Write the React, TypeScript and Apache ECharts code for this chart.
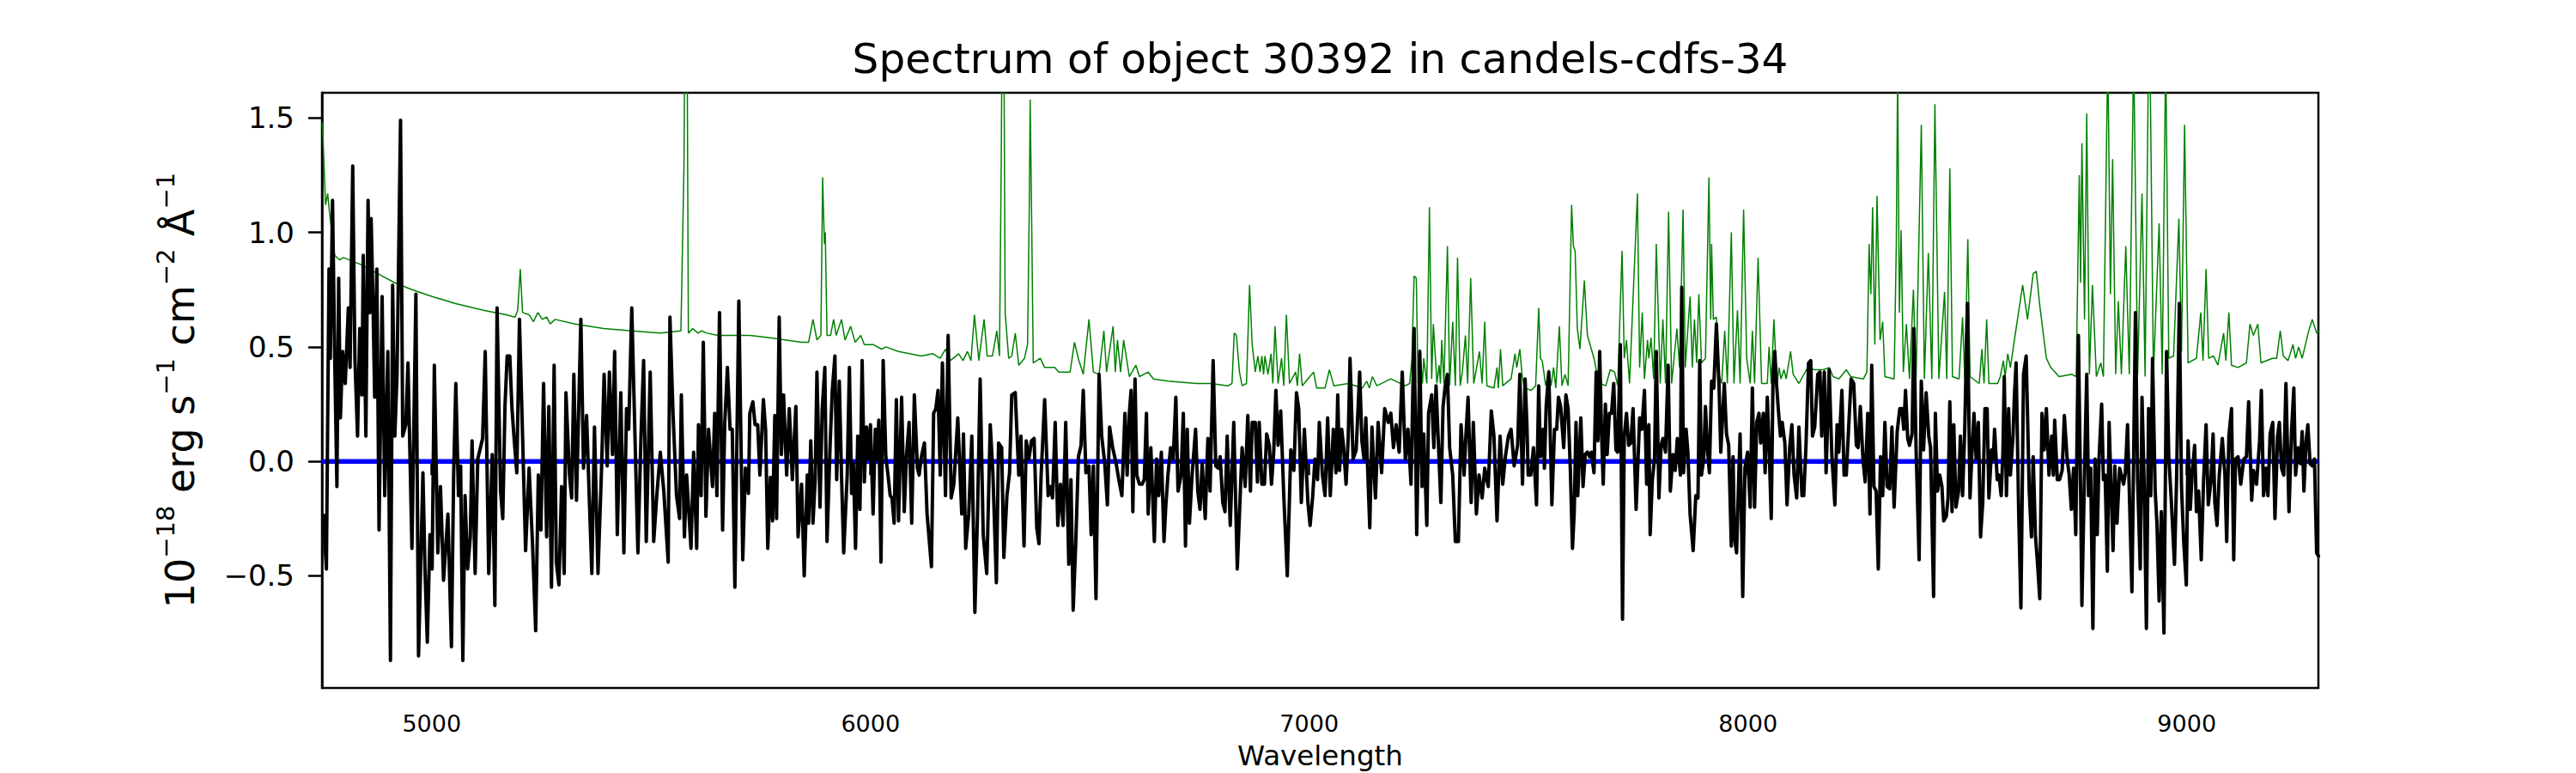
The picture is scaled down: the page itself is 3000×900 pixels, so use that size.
import React, { useEffect, useRef } from "react";
import * as echarts from "echarts";

const TITLE = "Spectrum of object 30392 in candels-cdfs-34";
const X_NAME = "Wavelength";
const X_MIN = 4750;
const X_MAX = 9300;
const Y_MIN = -0.99;
const Y_MAX = 1.61;
const xTicks = [5000, 6000, 7000, 8000, 9000];
const yTicks = [-0.5, 0, 0.5, 1.0, 1.5];
const zeroLevel = 0;

// Observed flux (black), wavelength [Å] / flux [1e-18 erg/s/cm2/Å]
const flux4750: [number, number][] = [
  [4753,-0.23],[4760,-0.47],[4766,0.84],[4769,0.45],[4774,1.14],[4779,0.45],[4784,-0.11],[4788,0.80],[4792,0.19],[4797,0.48],[4803,0.34],[4810,0.67],[4814,0.41],[4820,1.29],[4825,0.45],[4831,0.11],[4836,0.58],[4841,0.29],[4844,0.90],[4850,0.11],[4855,1.14],[4859,0.65],[4862,1.06],[4866,0.72],[4870,0.28],[4875,0.84],[4880,-0.30],[4887,0.72],[4893,-0.15],[4900,0.48],[4906,-0.87],[4911,0.77],[4916,0.11],[4921,0.38],[4929,1.49],[4934,0.11],[4941,0.16],[4946,0.43],[4955,-0.38],[4964,0.73],[4970,-0.85],[4980,-0.05],[4985,-0.49],[4990,-0.79],[4996,-0.32],[5001,-0.47],[5006,0.42],[5014,-0.40],[5020,-0.11],[5027,-0.52],[5037,-0.23],[5045,-0.81],[5050,-0.06],[5055,0.34],[5061,-0.15],[5066,-0.02],[5071,-0.87],[5076,-0.15],[5082,-0.47],[5088,-0.33],[5092,0.09],[5099,-0.49],[5105,0.01],[5116,0.10],[5122,0.48],[5130,-0.49],[5138,0.03],[5144,-0.63],[5149,0.67],[5157,-0.13],[5162,-0.25],[5167,0.24],[5172,0.46],[5178,0.46],[5183,0.23],[5189,0.07],[5194,-0.05],[5200,0.62],[5207,0.12],[5214,-0.39],[5222,-0.03],[5230,-0.37],[5237,-0.74],[5243,-0.06],[5249,-0.30],[5255,0.34],[5262,-0.33],[5267,0.24],[5273,-0.55],[5279,0.42],[5284,-0.44],[5290,-0.54],[5296,-0.11],[5302,-0.49],[5306,0.30],[5314,-0.06],[5319,-0.16],[5324,0.38],[5330,-0.17],[5340,0.62],[5346,-0.03],[5353,0.20],[5359,-0.15],[5365,-0.49],[5371,0.15],[5379,-0.49],[5387,-0.04],[5393,0.38],[5400,-0.02],[5405,0.39],[5412,0.03],[5417,0.48],[5423,-0.32],[5431,0.30],[5438,-0.40],[5444,0.23],[5449,0.14],[5456,0.67],[5462,0.21],[5470,-0.40],[5477,0.11],[5483,0.44],[5489,-0.35],[5498,0.39],[5506,-0.35],[5513,-0.15],[5521,0.04],[5529,-0.13],[5539,-0.44],[5543,0.63],[5550,0.21],[5558,-0.15],[5565,-0.25],[5569,0.29],[5576,-0.33],[5581,-0.06],[5591,-0.38],[5597,0.04],[5604,-0.38],[5608,0.16],[5614,-0.15],[5619,0.52],[5625,-0.24],[5631,0.14],[5640,-0.11],[5645,0.21],[5650,-0.15],[5656,0.65],
];
const flux5660: [number, number][] = [
  [5663,-0.30],[5668,0.17],[5674,0.41],[5680,0.14],[5685,0.14],[5691,-0.55],[5700,0.70],[5709,-0.43],[5715,-0.03],[5722,-0.14],[5725,0.21],[5732,0.26],[5737,0.16],[5743,0.16],[5748,-0.06],[5756,0.27],[5761,0.14],[5766,-0.38],[5772,-0.07],[5777,-0.26],[5782,0.20],[5786,-0.25],[5792,0.63],[5797,0.03],[5802,0.29],[5809,-0.06],[5815,0.23],[5822,-0.08],[5830,0.24],[5835,-0.33],[5843,-0.10],[5849,-0.50],[5856,-0.06],[5859,-0.27],[5864,0.09],[5869,-0.27],[5874,-0.08],[5878,0.39],[5885,-0.20],[5890,0.23],[5896,0.41],[5901,-0.35],[5908,0.07],[5913,0.31],[5919,0.46],[5923,-0.08],[5929,0.35],[5934,-0.06],[5939,-0.40],[5947,-0.06],[5952,0.41],[5957,-0.14],[5961,-0.01],[5966,-0.38],[5971,0.11],[5976,-0.21],[5981,0.44],[5986,-0.09],[5991,0.15],[5996,0.01],[6000,0.16],[6006,-0.23],[6011,0.14],[6015,0.01],[6019,0.18],[6024,-0.44],[6029,0.44],[6035,0.02],[6040,-0.06],[6045,-0.15],[6049,-0.16],[6054,-0.27],[6059,0.27],[6064,-0.26],[6071,0.28],[6077,-0.22],[6082,0.02],[6088,0.17],[6094,-0.27],[6100,0.29],[6107,-0.03],[6111,-0.06],[6116,0.02],[6123,0.08],[6129,-0.23],[6139,-0.46],[6144,0.21],[6149,0.23],[6154,0.31],[6159,-0.06],[6164,0.43],[6171,-0.15],[6177,0.55],[6184,-0.16],[6190,-0.10],[6199,0.19],[6208,-0.23],[6212,0.12],[6217,-0.38],[6224,-0.23],[6231,0.11],[6238,-0.66],[6244,-0.23],[6250,0.36],[6257,-0.32],[6265,-0.49],[6273,0.16],[6279,-0.05],[6287,-0.53],[6292,0.08],[6299,0.06],[6304,-0.42],[6311,-0.15],[6317,-0.05],[6322,0.29],[6330,0.30],[6338,-0.06],[6343,0.11],[6350,-0.37],[6355,0.09],[6361,0.01],[6367,0.09],[6373,0.10],[6379,-0.29],[6384,-0.36],[6389,-0.06],[6397,0.27],[6405,-0.15],[6410,-0.11],[6415,-0.16],[6421,0.17],[6427,-0.28],[6433,-0.10],[6439,-0.28],[6445,0.17],[6452,-0.45],[6457,-0.08],[6462,-0.65],[6468,-0.35],[6474,0.02],[6480,0.07],[6485,0.31],[6491,-0.05],[6498,-0.02],[6503,-0.32],[6508,-0.02],[6514,-0.60],[6521,0.38],[6527,0.11],[6534,-0.01],[6540,-0.19],[6545,0.15],[6552,0.06],[6560,-0.01],[6566,-0.08],[6573,-0.15],
];
const flux6580: [number, number][] = [
  [6580,0.21],[6585,-0.06],[6590,0.21],[6594,0.31],[6598,-0.22],[6603,0.36],[6607,-0.06],[6613,-0.10],[6619,-0.10],[6624,-0.08],[6629,0.21],[6633,-0.23],[6639,0.06],[6647,-0.35],[6652,0.01],[6657,-0.15],[6663,0.04],[6669,-0.35],[6673,-0.20],[6678,-0.06],[6684,0.06],[6690,0.01],[6696,0.28],[6701,-0.13],[6708,-0.06],[6713,0.21],[6718,-0.37],[6722,0.14],[6727,-0.27],[6733,-0.06],[6741,0.14],[6746,-0.13],[6751,-0.21],[6756,-0.01],[6763,-0.25],[6769,0.10],[6774,-0.13],[6781,0.44],[6787,-0.02],[6793,-0.03],[6797,0.02],[6803,-0.18],[6808,-0.22],[6813,0.11],[6820,-0.28],[6828,0.17],[6836,-0.47],[6841,-0.23],[6847,0.06],[6854,-0.11],[6860,0.20],[6866,-0.13],[6870,0.17],[6877,0.17],[6882,-0.09],[6886,0.17],[6892,-0.10],[6898,-0.10],[6903,0.12],[6909,0.07],[6914,-0.10],[6919,0.04],[6924,0.31],[6929,0.07],[6935,0.22],[6942,-0.15],[6950,-0.50],[6958,0.05],[6965,-0.04],[6971,0.30],[6976,0.23],[6982,-0.18],[6989,0.14],[6997,-0.18],[7002,-0.28],[7008,-0.15],[7013,0.01],[7019,-0.08],[7023,0.17],[7030,-0.06],[7036,-0.15],[7042,0.19],[7048,-0.15],[7055,0.14],[7061,-0.05],[7065,0.29],[7069,-0.04],[7074,0.14],[7078,0.07],[7084,-0.10],[7089,0.11],[7093,0.45],[7100,0.01],[7107,0.05],[7115,0.39],[7120,0.09],[7125,0.01],[7129,0.19],[7138,-0.29],[7143,0.15],[7147,-0.02],[7151,-0.16],[7157,0.17],[7165,-0.05],[7172,0.23],[7180,0.17],[7186,0.21],[7192,0.06],[7198,0.16],[7205,0.04],[7212,0.39],[7219,0.01],[7225,0.14],[7232,-0.10],[7239,0.58],[7245,-0.32],[7252,0.48],[7257,-0.11],[7261,0.12],[7268,-0.28],[7272,0.21],[7279,0.29],[7284,0.06],[7289,0.33],[7295,0.05],[7300,-0.18],[7305,0.24],[7310,0.33],[7315,0.38],[7320,0.06],[7327,-0.06],[7333,-0.35],[7340,-0.35],[7346,0.16],[7353,-0.06],[7357,0.11],[7362,0.28],[7369,-0.18],[7374,0.17],[7381,-0.23],[7387,-0.06],[7394,-0.16],[7400,-0.03],[7408,-0.11],[7415,0.22],[7421,0.11],[7428,-0.26],[7435,0.11],[7441,-0.10],[7447,0.02],[7454,0.11],[7460,0.14],[7467,-0.02],[7475,0.07],[7480,0.38],[7486,-0.10],[7492,0.36],[7496,0.17],[7499,-0.06],[7505,-0.06],[7511,0.06],[7518,-0.19],
];
const flux7520: [number, number][] = [
  [7523,0.33],[7527,0.02],[7533,0.14],[7536,-0.03],[7540,0.24],[7546,0.39],[7553,-0.19],[7559,0.14],[7564,0.14],[7568,0.28],[7573,0.24],[7580,0.06],[7585,0.29],[7590,0.23],[7595,-0.03],[7600,-0.38],[7604,-0.22],[7608,0.17],[7612,-0.15],[7619,0.19],[7624,-0.11],[7629,0.03],[7634,0.04],[7639,0.02],[7643,0.04],[7649,-0.05],[7654,0.39],[7658,0.09],[7662,0.48],[7666,0.14],[7670,-0.10],[7675,0.25],[7679,0.03],[7684,0.21],[7689,0.21],[7694,0.34],[7699,0.05],[7703,0.04],[7709,0.51],[7714,-0.69],[7718,0.11],[7723,0.21],[7728,0.07],[7733,0.08],[7738,0.23],[7745,-0.21],[7753,0.19],[7758,0.14],[7764,0.31],[7769,-0.10],[7774,0.16],[7777,-0.32],[7782,-0.08],[7787,0.01],[7791,0.48],[7797,-0.16],[7802,0.07],[7806,0.10],[7812,0.04],[7818,0.42],[7823,-0.13],[7829,0.03],[7834,-0.04],[7839,0.10],[7846,-0.06],[7849,0.76],[7853,-0.05],[7859,0.14],[7863,0.04],[7868,-0.23],[7875,-0.39],[7881,-0.15],[7886,-0.16],[7890,0.44],[7894,-0.06],[7899,0.01],[7903,0.24],[7908,0.04],[7912,-0.05],[7917,0.35],[7922,0.32],[7928,0.60],[7934,0.33],[7938,0.04],[7946,0.34],[7951,0.12],[7956,0.07],[7962,-0.37],[7966,0.02],[7969,-0.33],[7974,-0.40],[7979,-0.06],[7982,0.12],[7988,-0.59],[7993,-0.03],[7999,0.04],[8005,-0.20],[8010,0.32],[8015,-0.20],[8020,0.17],[8025,0.21],[8029,0.08],[8035,0.21],[8039,-0.05],[8044,0.28],[8048,0.07],[8053,-0.25],[8057,0.36],[8061,0.48],[8065,0.34],[8069,0.23],[8074,0.11],[8078,0.17],[8084,0.08],[8089,-0.19],[8095,0.06],[8100,0.16],[8105,-0.06],[8111,-0.16],[8116,0.15],[8123,-0.15],[8127,-0.15],[8132,0.06],[8138,0.43],[8143,0.44],[8147,0.11],[8152,0.15],[8159,0.38],[8164,0.39],[8168,0.11],[8174,0.39],[8178,-0.05],[8185,0.40],[8191,0.03],[8198,-0.19],[8203,0.16],[8207,0.04],[8214,0.31],[8219,-0.06],[8224,-0.06],[8230,0.17],[8235,0.36],[8241,0.34],[8247,0.07],[8251,0.06],[8256,0.24],[8262,0.01],[8267,-0.09],[8273,0.21],[8278,-0.23],[8282,0.42],[8287,-0.11],[8292,-0.13],[8297,-0.47],[8302,0.02],[8307,-0.15],[8312,0.17],[8317,-0.11],[8323,-0.12],[8328,0.15],[8333,-0.20],[8340,0.13],[8346,0.23],[8351,0.23],[8355,0.14],[8359,0.31],[8364,0.10],[8368,0.07],[8374,0.12],[8378,0.58],[8383,0.06],[8390,-0.43],[8395,0.35],[8400,0.05],[8406,0.30],[8412,0.11],[8416,0.06],[8423,-0.59],[8427,0.21],
];
const flux8430: [number, number][] = [
  [8432,-0.13],[8437,-0.06],[8442,-0.11],[8446,-0.26],[8452,-0.24],[8456,-0.16],[8460,0.26],[8465,-0.22],[8469,0.16],[8474,-0.20],[8480,-0.13],[8484,0.11],[8489,-0.15],[8494,0.14],[8500,0.69],[8506,-0.16],[8510,0.02],[8515,0.21],[8520,0.01],[8525,0.17],[8530,-0.33],[8535,-0.18],[8540,0.23],[8545,0.23],[8549,-0.16],[8555,0.05],[8559,0.01],[8562,0.14],[8568,-0.08],[8572,-0.06],[8577,-0.15],[8581,0.04],[8584,0.37],[8589,-0.15],[8594,0.23],[8598,-0.06],[8604,0.11],[8607,0.28],[8611,0.43],[8617,-0.23],[8622,-0.64],[8628,0.38],[8634,0.46],[8641,-0.13],[8646,-0.33],[8650,0.02],[8655,-0.32],[8660,-0.45],[8665,-0.60],[8670,0.21],[8675,0.05],[8680,0.23],[8686,-0.06],[8692,0.11],[8696,-0.06],[8699,0.18],[8705,-0.08],[8710,-0.08],[8716,-0.04],[8721,0.20],[8727,0.02],[8732,-0.06],[8737,-0.21],[8742,-0.03],[8747,-0.32],[8753,0.55],[8758,-0.13],[8761,-0.63],[8767,-0.04],[8772,0.38],[8776,-0.15],[8781,-0.03],[8786,-0.73],[8791,0.01],[8796,-0.32],[8800,0.01],[8806,0.25],[8810,-0.08],[8814,-0.06],[8819,-0.48],[8823,0.17],[8828,-0.15],[8832,-0.39],[8836,-0.02],[8841,-0.27],[8847,-0.03],[8851,-0.06],[8856,-0.10],[8860,-0.05],[8865,0.16],[8870,-0.20],[8875,-0.57],[8879,0.03],[8883,0.65],[8888,-0.08],[8894,-0.47],[8898,0.28],[8903,-0.11],[8908,-0.73],[8913,0.23],[8918,-0.15],[8922,0.45],[8928,-0.13],[8932,-0.27],[8937,-0.61],[8942,-0.22],[8948,-0.75],[8954,0.48],[8959,0.02],[8965,-0.18],[8972,-0.45],[8977,-0.06],[8983,0.69],[8988,-0.11],[8993,-0.35],[8999,-0.54],[9003,0.09],[9008,-0.21],[9012,-0.06],[9018,0.07],[9022,-0.22],[9027,-0.13],[9033,-0.43],[9038,-0.10],[9044,0.16],[9049,-0.19],[9055,-0.09],[9060,0.12],[9064,-0.18],[9069,-0.28],[9074,-0.06],[9081,0.10],[9087,-0.06],[9091,-0.35],[9096,0.11],[9102,0.23],[9107,-0.43],[9111,0.01],[9117,0.02],[9123,-0.10],[9130,0.01],[9136,0.02],[9141,0.26],[9148,-0.17],[9152,-0.04],[9159,-0.10],[9166,0.09],[9170,0.31],[9175,-0.15],[9181,-0.03],[9185,-0.15],[9190,0.12],[9196,0.17],[9201,-0.25],[9207,0.11],[9211,0.17],[9216,-0.03],[9221,-0.06],[9226,0.34],[9233,-0.22],[9239,0.14],[9244,0.32],[9248,-0.06],[9254,0.06],[9259,-0.01],[9263,0.13],[9267,-0.13],[9272,0.09],[9276,0.16],[9281,-0.01],[9286,-0.02],[9291,0.01],[9296,-0.40],[9302,-0.42],
];

// Model / sky spectrum (green)
const model4750: [number, number][] = [
  [4751,1.48],[4758,1.12],[4763,1.17],[4767,1.09],[4773,0.99],[4779,0.90],[4790,0.88],[4799,0.89],[4838,0.86],[4877,0.82],[4916,0.78],[4955,0.75],[5001,0.72],[5053,0.69],[5118,0.66],[5170,0.64],[5190,0.63],[5196,0.66],[5202,0.84],[5207,0.65],[5222,0.64],[5232,0.61],[5242,0.65],[5252,0.62],[5262,0.63],[5270,0.60],[5281,0.62],[5327,0.60],[5392,0.58],[5457,0.57],[5522,0.56],[5568,0.57],[5575,1.29],[5577,1.9],[5582,1.9],[5585,0.56],[5595,0.58],[5607,0.56],[5615,0.57],[5627,0.56],[5653,0.55],
];
const model5660: [number, number][] = [
  [5660,0.55],[5725,0.55],[5771,0.54],[5843,0.52],[5859,0.52],[5869,0.62],[5878,0.53],[5887,0.55],[5891,1.24],[5895,0.95],[5897,1.00],[5901,0.55],[5909,0.55],[5916,0.62],[5922,0.55],[5934,0.62],[5942,0.53],[5955,0.59],[5965,0.52],[5978,0.55],[5986,0.51],[6006,0.51],[6025,0.49],[6035,0.50],[6064,0.48],[6116,0.46],[6142,0.47],[6159,0.45],[6171,0.49],[6182,0.44],[6201,0.47],[6211,0.44],[6221,0.48],[6229,0.44],[6237,0.64],[6247,0.44],[6259,0.62],[6266,0.46],[6278,0.46],[6288,0.57],[6294,0.46],[6298,1.29],[6300,1.9],[6304,1.9],[6307,0.65],[6315,0.45],[6322,0.46],[6330,0.56],[6338,0.42],[6351,0.45],[6358,0.51],[6362,1.12],[6364,1.58],[6367,1.12],[6371,0.43],[6387,0.45],[6397,0.41],[6420,0.41],[6429,0.39],[6455,0.39],[6465,0.52],[6475,0.44],[6485,0.38],[6498,0.62],[6508,0.39],[6521,0.38],[6532,0.57],[6538,0.39],[6553,0.59],[6558,0.39],[6563,0.53],[6570,0.39],[6577,0.53],
];
const model6580: [number, number][] = [
  [6590,0.37],[6596,0.39],[6605,0.42],[6613,0.37],[6633,0.39],[6645,0.36],[6678,0.35],[6743,0.34],[6776,0.34],[6815,0.33],[6824,0.34],[6829,0.56],[6834,0.55],[6841,0.39],[6847,0.33],[6857,0.34],[6864,0.77],[6870,0.51],[6877,0.39],[6883,0.46],[6888,0.39],[6892,0.46],[6896,0.38],[6899,0.46],[6906,0.38],[6913,0.47],[6917,0.34],[6922,0.59],[6929,0.34],[6937,0.45],[6942,0.33],[6948,0.64],[6955,0.34],[6969,0.39],[6973,0.33],[6978,0.47],[6984,0.33],[7010,0.39],[7017,0.32],[7036,0.32],[7046,0.40],[7056,0.33],[7089,0.34],[7121,0.32],[7131,0.35],[7137,0.32],[7144,0.37],[7154,0.33],[7186,0.36],[7219,0.33],[7229,0.34],[7234,0.45],[7239,0.81],[7244,0.80],[7248,0.34],[7252,0.49],[7258,0.34],[7261,0.45],[7268,0.34],[7274,1.11],[7279,0.36],[7283,0.60],[7291,0.34],[7296,0.42],[7299,0.34],[7302,0.53],[7307,0.34],[7315,0.94],[7320,0.33],[7327,0.61],[7333,0.33],[7338,0.89],[7344,0.33],[7349,0.39],[7356,0.55],[7361,0.34],[7368,0.80],[7375,0.34],[7388,0.48],[7394,0.34],[7400,0.61],[7405,0.33],[7421,0.32],[7428,0.41],[7431,0.32],[7436,0.49],[7441,0.33],[7460,0.36],[7469,0.47],[7473,0.41],[7480,0.49],[7485,0.38],[7490,0.32],[7506,0.31],
];
const model7510: [number, number][] = [
  [7516,0.33],[7523,0.67],[7527,0.45],[7531,0.44],[7539,0.33],[7546,0.40],[7551,0.33],[7557,0.41],[7562,0.32],[7570,0.59],[7576,0.33],[7583,0.38],[7590,0.33],[7598,1.12],[7602,0.94],[7606,0.92],[7611,0.58],[7617,0.49],[7627,0.79],[7634,0.55],[7640,0.51],[7649,0.45],[7656,0.38],[7663,0.34],[7676,0.33],[7686,0.40],[7696,0.39],[7703,0.33],[7713,0.92],[7718,0.45],[7723,0.53],[7730,0.34],[7748,1.17],[7753,0.41],[7759,0.65],[7764,0.36],[7771,0.53],[7774,0.45],[7779,0.54],[7785,0.36],[7791,0.95],[7800,0.34],[7806,0.62],[7812,0.34],[7819,1.09],[7826,0.34],[7838,0.58],[7844,0.41],[7852,1.10],[7857,0.41],[7868,0.72],[7873,0.41],[7878,0.62],[7883,0.43],[7888,0.73],[7894,0.43],[7903,0.45],[7911,1.24],[7915,0.62],[7917,0.95],[7921,0.62],[7928,0.63],[7934,0.38],[7940,0.34],[7947,0.57],[7953,0.34],[7962,1.00],[7968,0.34],[7976,0.66],[7982,0.34],[7990,1.10],[7997,0.45],[8005,0.34],[8010,0.57],[8015,0.34],[8023,0.89],[8031,0.34],[8044,0.34],[8048,0.50],[8053,0.34],[8059,0.62],[8066,0.34],[8071,0.41],[8075,0.36],[8082,0.40],[8087,0.36],[8097,0.48],[8103,0.38],[8116,0.34],[8136,0.41],[8152,0.40],[8172,0.40],[8185,0.41],[8194,0.37],[8207,0.36],[8224,0.40],[8234,0.37],[8263,0.36],[8271,0.39],[8276,0.95],[8280,0.73],[8284,1.11],[8289,0.51],[8294,1.16],[8301,0.53],[8307,0.61],[8312,0.37],[8333,0.36],[8338,0.95],[8341,1.70],[8345,0.65],[8349,1.01],[8354,0.39],[8361,0.60],[8368,0.36],[8377,0.75],[8383,0.36],[8395,1.47],[8402,0.36],[8411,0.91],[8419,0.36],[8426,1.56],
];
const model8430: [number, number][] = [
  [8435,0.36],[8448,0.74],[8453,0.36],[8460,1.28],[8466,0.37],[8481,0.36],[8489,0.63],[8494,0.36],[8501,0.97],[8506,0.37],[8527,0.34],[8533,0.49],[8538,0.34],[8544,0.62],[8549,0.34],[8569,0.34],[8575,0.37],[8582,0.44],[8586,0.37],[8592,0.47],[8598,0.41],[8611,0.58],[8626,0.77],[8637,0.62],[8650,0.82],[8657,0.83],[8665,0.68],[8680,0.45],[8690,0.41],[8709,0.37],[8738,0.38],[8748,0.37],[8755,1.25],[8758,0.78],[8761,1.39],[8767,0.62],[8772,1.52],[8778,0.38],[8785,0.77],[8794,0.37],[8804,0.43],[8810,0.37],[8820,1.8],[8826,0.73],[8831,1.32],[8838,0.38],[8844,0.70],[8851,0.38],[8861,0.94],[8869,0.38],[8879,1.8],[8888,0.38],[8898,1.17],[8905,0.37],[8913,1.8],[8916,1.8],[8924,0.38],[8937,1.04],[8944,0.38],[8952,1.8],[8959,0.45],[8970,0.46],[8982,1.06],[8988,0.48],[8995,1.47],[9003,0.43],[9022,0.45],[9032,0.65],[9037,0.44],[9044,0.84],[9050,0.45],[9061,0.46],[9071,0.42],[9084,0.56],[9089,0.44],[9096,0.65],[9102,0.42],[9117,0.41],[9136,0.43],[9144,0.60],[9152,0.55],[9162,0.60],[9169,0.43],[9195,0.45],[9205,0.45],[9213,0.57],[9220,0.46],[9231,0.44],[9242,0.51],[9248,0.45],[9255,0.50],[9263,0.45],[9278,0.57],[9286,0.62],[9296,0.56],[9302,0.57],
];

const FONT = "DejaVu Sans";

const fmtY = (v: number) => (v < 0 ? "\u2212" + Math.abs(v).toFixed(1) : v.toFixed(1));

export default function App() {
  const ref = useRef<HTMLDivElement>(null);
  useEffect(() => {
    if (!ref.current) return;
    const chart = echarts.init(ref.current, null, { renderer: "svg" });
    const fluxData = [...flux4750, ...flux5660, ...flux6580, ...flux7520, ...flux8430];
    const modelData = [...model4750, ...model5660, ...model6580, ...model7510, ...model8430];
    chart.setOption({
      animation: false,
      backgroundColor: "#ffffff",
      grid: {
        left: 375,
        right: 300,
        top: 108,
        bottom: 99,
        show: true,
        borderColor: "#000",
        borderWidth: 2.5,
        backgroundColor: "transparent",
      },
      xAxis: {
        type: "value",
        min: X_MIN,
        max: X_MAX,
        axisLine: { show: true, lineStyle: { color: "#000", width: 2.5 } },
        axisTick: { show: true, customValues: xTicks, length: 16, lineStyle: { color: "#000", width: 2.5 } },
        axisLabel: {
          customValues: xTicks,
          margin: 28,
          fontSize: 27,
          fontFamily: FONT,
          color: "#000",
          formatter: (v: number) => String(v),
        },
        splitLine: { show: false },
      },
      yAxis: {
        type: "value",
        min: Y_MIN,
        max: Y_MAX,
        axisLine: { show: true, lineStyle: { color: "#000", width: 2.5 } },
        axisTick: { show: true, customValues: yTicks, length: 16, lineStyle: { color: "#000", width: 2.5 } },
        axisLabel: {
          customValues: yTicks,
          margin: 32,
          fontSize: 34,
          fontFamily: FONT,
          color: "#000",
          formatter: fmtY,
        },
        splitLine: { show: false },
      },
      graphic: [
        {
          type: "text",
          x: 1537.5,
          y: 68,
          style: {
            text: TITLE,
            fontFamily: FONT,
            fontSize: 48.5,
            fill: "#000",
            align: "center",
            verticalAlign: "middle",
          },
        },
        {
          type: "text",
          x: 1537.5,
          y: 880,
          style: {
            text: X_NAME,
            fontFamily: FONT,
            fontSize: 32.5,
            fill: "#000",
            align: "center",
            verticalAlign: "middle",
          },
        },
        {
          type: "text",
          x: 210,
          y: 454.5,
          rotation: Math.PI / 2,
          style: {
            text: "{a|10}{s|\u221218}{a| erg s}{s|\u22121}{a| cm}{s|\u22122}{a| \u00C5}{s|\u22121}",
            fontFamily: FONT,
            fill: "#000",
            align: "center",
            verticalAlign: "middle",
            rich: {
              a: { fontFamily: FONT, fontSize: 46, lineHeight: 63, fill: "#000" },
              s: { fontFamily: FONT, fontSize: 29, lineHeight: 29, verticalAlign: "top", fill: "#000" },
            },
          },
        },
      ],
      series: [
        {
          type: "line",
          name: "model",
          data: modelData,
          showSymbol: false,
          clip: true,
          silent: true,
          lineStyle: { color: "#008000", width: 1.5 },
          z: 2,
        },
        {
          type: "line",
          name: "zero",
          data: [
            [X_MIN, zeroLevel],
            [X_MAX, zeroLevel],
          ],
          showSymbol: false,
          clip: true,
          silent: true,
          lineStyle: { color: "#0000ff", width: 5.5 },
          z: 3,
        },
        {
          type: "line",
          name: "flux",
          data: fluxData,
          showSymbol: false,
          clip: true,
          silent: true,
          lineStyle: { color: "#000", width: 4, join: "round" },
          z: 4,
        },
      ],
    });
    return () => chart.dispose();
  }, []);
  return (
    <div
      ref={ref}
      style={{ position: "fixed", left: 0, top: 0, width: 3000, height: 900, background: "#fff" }}
    />
  );
}
